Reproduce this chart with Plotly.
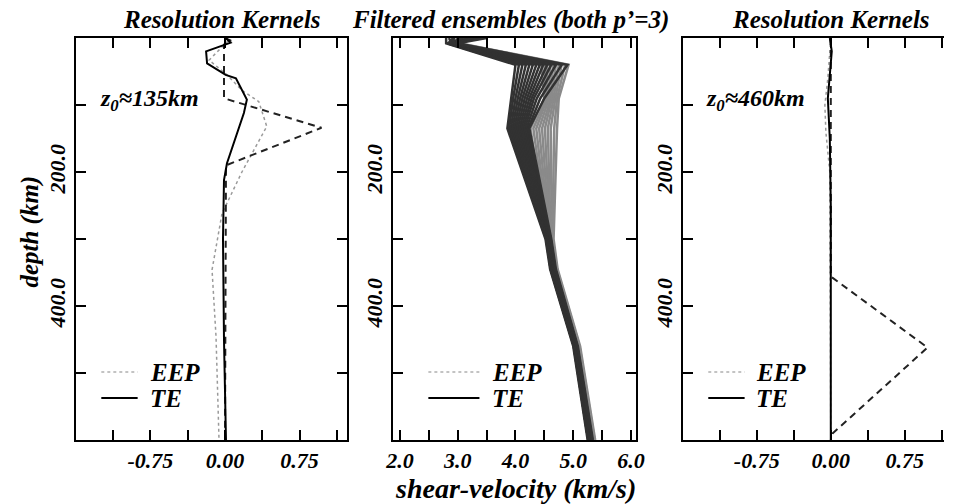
import plotly.graph_objects as go

# ---------------- data ----------------
# Left panel: resolution kernels for z0 ~ 135 km
k135_depth_target = [0, 4, 10, 90, 134, 190, 600]
k135_val_target = [0.0, 0.06, -0.01, -0.01, 0.97, 0.01, 0.0]
k135_depth_te = [0, 7, 20, 38, 55, 60, 92, 112, 187, 212, 300, 450, 600]
k135_val_te = [0.007, 0.057, -0.19, -0.18, 0.007, 0.11, 0.22, 0.19, 0.02, -0.01, -0.02, -0.01, 0.01]
k135_depth_eep = [0, 3, 33, 55, 78, 95, 132, 172, 200, 262, 346, 446, 600]
k135_val_eep = [0.0, 0.04, -0.16, 0.02, 0.17, 0.34, 0.42, 0.27, 0.17, -0.03, -0.13, -0.09, -0.06]

# Right panel: resolution kernels for z0 ~ 460 km
k460_depth_target = [0, 356, 462, 590, 600]
k460_val_target = [0.0, 0.0, 0.98, 0.02, 0.0]
k460_depth_te = [0, 20, 90, 150, 250, 600]
k460_val_te = [-0.01, 0.01, -0.03, -0.01, 0.0, 0.0]
k460_depth_eep = [0, 60, 100, 140, 200, 600]
k460_val_eep = [0.0, -0.03, -0.06, -0.05, -0.01, 0.0]

# Middle panel: filtered shear-velocity ensembles (km/s) at node depths (km)
ens_depth = [0, 8, 40, 90, 135, 300, 345, 460, 600]
ens_te = [
    [2.80, 2.80, 4.00, 3.92, 3.86, 4.52, 4.60, 5.00, 5.25],
    [3.35, 2.82, 4.06, 3.96, 3.89, 4.53, 4.61, 5.01, 5.26],
    [2.95, 2.83, 4.12, 4.00, 3.92, 4.54, 4.61, 5.01, 5.26],
    [3.20, 2.85, 4.18, 4.04, 3.95, 4.54, 4.62, 5.02, 5.27],
    [3.45, 2.86, 4.24, 4.08, 3.98, 4.55, 4.63, 5.02, 5.28],
    [3.05, 2.88, 4.30, 4.12, 4.01, 4.56, 4.64, 5.03, 5.28],
    [2.85, 2.89, 4.36, 4.16, 4.04, 4.57, 4.64, 5.03, 5.29],
    [3.30, 2.91, 4.42, 4.20, 4.07, 4.58, 4.65, 5.04, 5.30],
    [3.10, 2.92, 4.48, 4.24, 4.10, 4.58, 4.66, 5.05, 5.30],
    [3.40, 2.94, 4.55, 4.28, 4.13, 4.59, 4.66, 5.05, 5.31],
    [2.90, 2.95, 4.62, 4.32, 4.16, 4.60, 4.67, 5.06, 5.32],
    [3.25, 2.97, 4.70, 4.37, 4.19, 4.61, 4.68, 5.07, 5.32],
    [3.00, 2.98, 4.80, 4.43, 4.22, 4.61, 4.69, 5.07, 5.33],
    [3.50, 3.00, 4.90, 4.50, 4.24, 4.62, 4.70, 5.08, 5.34],
]
ens_eep = [
    [2.95, 2.90, 4.45, 4.50, 4.26, 4.55, 4.63, 5.04, 5.30],
    [3.20, 2.92, 4.50, 4.53, 4.31, 4.56, 4.64, 5.05, 5.31],
    [3.05, 2.93, 4.55, 4.55, 4.36, 4.57, 4.65, 5.06, 5.31],
    [3.35, 2.95, 4.60, 4.58, 4.41, 4.58, 4.66, 5.07, 5.32],
    [2.90, 2.96, 4.65, 4.61, 4.46, 4.59, 4.67, 5.07, 5.33],
    [3.15, 2.98, 4.70, 4.63, 4.51, 4.60, 4.68, 5.08, 5.34],
    [3.40, 2.99, 4.75, 4.66, 4.56, 4.61, 4.69, 5.09, 5.35],
    [3.00, 3.01, 4.80, 4.69, 4.61, 4.63, 4.70, 5.10, 5.36],
    [3.25, 3.03, 4.86, 4.72, 4.67, 4.64, 4.72, 5.11, 5.37],
    [3.10, 3.05, 4.92, 4.75, 4.72, 4.66, 4.73, 5.12, 5.38],
]

# ticks
depth_major = [200, 400]
depth_major_text = ["200.0", "400.0"]
depth_minor = [100, 200, 300, 400, 500]
kern_major = [-0.75, 0.0, 0.75]
kern_major_text = ["-0.75", "0.00", "0.75"]
kern_minor = [-1.125, -0.75, -0.375, 0.0, 0.375, 0.75, 1.125]
vel_major = [2.0, 3.0, 4.0, 5.0, 6.0]
vel_major_text = ["2.0", "3.0", "4.0", "5.0", "6.0"]
vel_minor = [2.0, 2.5, 3.0, 3.5, 4.0, 4.5, 5.0, 5.5, 6.0]

# ---------------- figure ----------------
W, H = 953, 504
FONT = "Liberation Serif, Times New Roman, serif"


def fx(x):
    return x / W


def fy(y):
    return 1 - y / H


fig = go.Figure()

TE_COLOR = "black"
EEP_COLOR = "#9a9a9a"

# left kernels
fig.add_trace(go.Scatter(x=k135_val_eep, y=k135_depth_eep, mode="lines",
                         line=dict(color=EEP_COLOR, width=1.5, dash="dot"),
                         xaxis="x", yaxis="y", showlegend=False))
fig.add_trace(go.Scatter(x=k135_val_target, y=k135_depth_target, mode="lines",
                         line=dict(color="#222", width=2, dash="7px,5px"),
                         xaxis="x", yaxis="y", showlegend=False))
fig.add_trace(go.Scatter(x=k135_val_te, y=k135_depth_te, mode="lines",
                         line=dict(color=TE_COLOR, width=2),
                         xaxis="x", yaxis="y", showlegend=False))

# middle ensembles
for prof in ens_eep:
    fig.add_trace(go.Scatter(x=prof, y=ens_depth, mode="lines",
                             line=dict(color="#8a8a8a", width=2.5),
                             xaxis="x2", yaxis="y2", showlegend=False))
for prof in ens_te:
    fig.add_trace(go.Scatter(x=prof, y=ens_depth, mode="lines",
                             line=dict(color="#323232", width=2.5),
                             xaxis="x2", yaxis="y2", showlegend=False))

# right kernels
fig.add_trace(go.Scatter(x=k460_val_eep, y=k460_depth_eep, mode="lines",
                         line=dict(color=EEP_COLOR, width=1.5, dash="dot"),
                         xaxis="x3", yaxis="y3", showlegend=False))
fig.add_trace(go.Scatter(x=k460_val_target, y=k460_depth_target, mode="lines",
                         line=dict(color="#222", width=2, dash="7px,5px"),
                         xaxis="x3", yaxis="y3", showlegend=False))
fig.add_trace(go.Scatter(x=k460_val_te, y=k460_depth_te, mode="lines",
                         line=dict(color=TE_COLOR, width=2),
                         xaxis="x3", yaxis="y3", showlegend=False))

tickfont = dict(family=FONT, size=22, color="black", weight="bold", style="italic")
axis_common = dict(showline=True, linecolor="black", linewidth=2,
                   ticks="inside", ticklen=10, tickwidth=1.5, tickcolor="black",
                   showgrid=False, zeroline=False, tickfont=tickfont)


def minor(vals):
    return dict(tickmode="array", tickvals=vals, ticks="inside", ticklen=10,
                tickwidth=1.5, tickcolor="black", showgrid=False)


ydom = [fy(440), fy(38)]
xd1 = [fx(69), fx(345)]
xd2 = [fx(392), fx(639)]
xd3 = [fx(687), 1.0]

fig.update_layout(
    width=W, height=H,
    margin=dict(l=0, r=0, t=0, b=0),
    paper_bgcolor="white", plot_bgcolor="white",
    showlegend=False,
    xaxis=dict(domain=xd1, range=[-1.5, 1.225], tickvals=kern_major, ticktext=kern_major_text,
               minor=minor(kern_minor), anchor="y", mirror="ticks", **axis_common),
    yaxis=dict(domain=ydom, range=[600, 0], tickvals=depth_major, ticktext=depth_major_text,
               minor=minor(depth_minor), tickangle=-90, anchor="x", mirror="ticks", **axis_common),
    xaxis2=dict(domain=xd2, range=[1.88, 6.08], tickvals=vel_major, ticktext=vel_major_text,
                minor=minor(vel_minor), anchor="y2", mirror="ticks", **axis_common),
    yaxis2=dict(domain=ydom, range=[600, 0], tickvals=depth_major, ticktext=depth_major_text,
                minor=minor(depth_minor), tickangle=-90, anchor="x2", mirror="ticks", **axis_common),
    xaxis3=dict(domain=xd3, range=[-1.5, 1.147], tickvals=kern_major, ticktext=kern_major_text,
                minor=minor(kern_minor), anchor="y3", mirror="ticks", **axis_common),
    yaxis3=dict(domain=ydom, range=[600, 0], tickvals=depth_major, ticktext=depth_major_text,
                minor=minor(depth_minor), tickangle=-90, anchor="x3", mirror=False, **axis_common),
)

bi = dict(family=FONT, color="black", weight="bold", style="italic")

annots = [
    dict(text="Resolution Kernels", x=fx(218), y=fy(20), size=25),
    dict(text="Filtered ensembles (both p\u2019=3)", x=fx(512), y=fy(20), size=25),
    dict(text="Resolution Kernels", x=fx(838), y=fy(20), size=25),
    dict(text="shear-velocity (km/s)", x=fx(517), y=fy(488), size=28),
]
for a in annots:
    fig.add_annotation(text=a["text"], x=a["x"], y=a["y"], xref="paper", yref="paper",
                       xanchor="center", yanchor="middle", showarrow=False,
                       font=dict(size=a["size"], **bi))

fig.add_annotation(text="depth (km)", x=fx(22), y=fy(232), xref="paper", yref="paper",
                   textangle=-90, xanchor="center", yanchor="middle", showarrow=False,
                   font=dict(size=25, **bi))

fig.add_annotation(text="z<sub>0</sub>\u2248135km", x=fx(92), y=fy(100), xref="paper", yref="paper",
                   xanchor="left", yanchor="middle", showarrow=False, font=dict(size=24, **bi))
fig.add_annotation(text="z<sub>0</sub>\u2248460km", x=fx(709), y=fy(100), xref="paper", yref="paper",
                   xanchor="left", yanchor="middle", showarrow=False, font=dict(size=24, **bi))

# legends (one per panel)
legend_pos = [(95, 132, 143), (428, 480, 491), (713, 750, 760)]
for x0, x1, xt in legend_pos:
    fig.add_shape(type="line", xref="paper", yref="paper", x0=fx(x0), x1=fx(x1),
                  y0=fy(372), y1=fy(372), line=dict(color="#b0b0b0", width=1.5, dash="dot"))
    fig.add_shape(type="line", xref="paper", yref="paper", x0=fx(x0), x1=fx(x1),
                  y0=fy(398), y1=fy(398), line=dict(color="black", width=2))
    fig.add_annotation(text="EEP", x=fx(xt), y=fy(372), xref="paper", yref="paper",
                       xanchor="left", yanchor="middle", showarrow=False, font=dict(size=25, **bi))
    fig.add_annotation(text="TE", x=fx(xt), y=fy(398), xref="paper", yref="paper",
                       xanchor="left", yanchor="middle", showarrow=False, font=dict(size=25, **bi))

fig.write_html("out.html")
